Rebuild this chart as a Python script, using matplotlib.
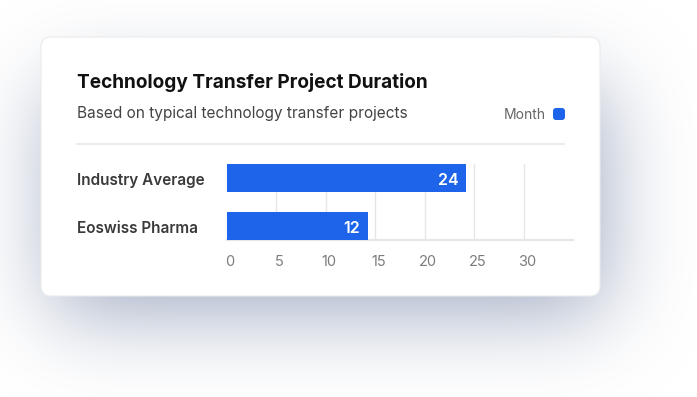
import numpy as np
import matplotlib
matplotlib.use("Agg")
import matplotlib.pyplot as plt
from matplotlib.patches import FancyBboxPatch
from matplotlib.transforms import ScaledTranslation

# ---- data ----
categories = ["Industry Average", "Eoswiss Pharma"]
bar_lengths = [24.2, 14.3]          # bar lengths as drawn in the reference
value_labels = ["24", "12"]         # labels printed on the bars
xticks = [0, 5, 10, 15, 20, 25, 30]
title = "Technology Transfer Project Duration"
subtitle = "Based on typical technology transfer projects"
legend_label = "Month"

BLUE = "#1E64EB"
W, H = 697, 397
plt.rcParams["font.family"] = ["Inter", "DejaVu Sans"]

fig = plt.figure(figsize=(W / 100, H / 100), dpi=100)
fig.patch.set_facecolor("white")

bg = fig.add_axes([0, 0, 1, 1])
bg.set_xlim(0, W)
bg.set_ylim(H, 0)
bg.axis("off")

# ---- soft shadow (blurred rectangle) ----
cx0, cy0, cx1, cy1 = 41, 37, 600, 296
yy, xx = np.mgrid[0:H, 0:W] + 0.5
mask = ((xx > 50) & (xx < 606) & (yy > 85) & (yy < 315)).astype(float)

def blur(a, sigma):
    r = int(3 * sigma)
    k = np.exp(-0.5 * (np.arange(-r, r + 1) / sigma) ** 2)
    k /= k.sum()
    pad = r
    a = np.pad(a, pad, mode="constant")
    a = np.apply_along_axis(lambda v: np.convolve(v, k, mode="same"), 0, a)
    a = np.apply_along_axis(lambda v: np.convolve(v, k, mode="same"), 1, a)
    return a[pad:-pad, pad:-pad]

sh = blur(mask, 42)
img = np.zeros((H, W, 4))
img[..., 0] = 170 / 255
img[..., 1] = 180 / 255
img[..., 2] = 200 / 255
img[..., 3] = np.clip(sh * 1.08, 0, 1)
bg.imshow(img, extent=(0, W, H, 0), interpolation="bilinear", zorder=0)

card = FancyBboxPatch((cx0, cy0), cx1 - cx0, cy1 - cy0,
                      boxstyle="round,pad=0,rounding_size=10",
                      facecolor="white", edgecolor="#ebebeb", lw=0.8, zorder=1)
bg.add_patch(card)

# ---- header texts ----
bg.text(77, 88, title, fontsize=13.7, fontweight="bold", color="#111111",
        va="baseline", ha="left", zorder=3)
bg.text(77, 118, subtitle, fontsize=11.1, color="#444444",
        va="baseline", ha="left", zorder=3)
bg.text(546, 119, legend_label, fontsize=10, color="#666666",
        va="baseline", ha="right", zorder=3)
bg.add_patch(FancyBboxPatch((553, 108), 12, 12,
                            boxstyle="round,pad=0,rounding_size=3",
                            facecolor=BLUE, edgecolor="none", zorder=3))
bg.plot([77, 564], [143.5, 143.5], color="#e8e8e8", lw=1.2, zorder=2)

# ---- bar chart ----
left, right, top, bottom = 226.7, 573.2, 164.0, 240.3
ax = fig.add_axes([left / W, 1 - bottom / H, (right - left) / W, (bottom - top) / H])
ax.set_facecolor("none")
ypos = np.arange(len(categories))
bh = 0.577
ax.barh(ypos, bar_lengths, height=bh, color=BLUE, zorder=3)
ax.set_xlim(0, 35)
ax.set_ylim(len(categories) - 1 + bh / 2, -bh / 2)
for xt in xticks[1:]:
    ax.axvline(xt, color="#e6e6e6", lw=1, zorder=1)
for s in ["top", "right", "left"]:
    ax.spines[s].set_visible(False)
ax.spines["bottom"].set_color("#e6e6e6")
ax.spines["bottom"].set_linewidth(1.5)
ax.set_xticks(xticks)
ax.set_xticklabels([str(t) for t in xticks], fontsize=10.5, color="#7c7c7c")
ax.tick_params(axis="x", length=0, pad=10.5)
shift = ScaledTranslation(3 / 100, 0, fig.dpi_scale_trans)
for lab in ax.get_xticklabels():
    lab.set_transform(lab.get_transform() + shift)
ax.set_yticks(ypos)
ax.set_yticklabels([])
ax.tick_params(axis="y", length=0)

for y, lab in zip(ypos, categories):
    ax.annotate(lab, xy=(0, y), xycoords=("figure pixels", "data"),
                xytext=(77, -7), textcoords="offset pixels",
                fontsize=11.0, fontweight="semibold", color="#3a3a3a",
                va="baseline", ha="left")

for y, v, lab in zip(ypos, bar_lengths, value_labels):
    ax.annotate(lab, xy=(v, y), xytext=(-8, -7), textcoords="offset pixels",
                fontsize=11.5, fontweight="semibold", color="white",
                va="baseline", ha="right", zorder=4)

fig.savefig("out.png", dpi=100, facecolor="white")
